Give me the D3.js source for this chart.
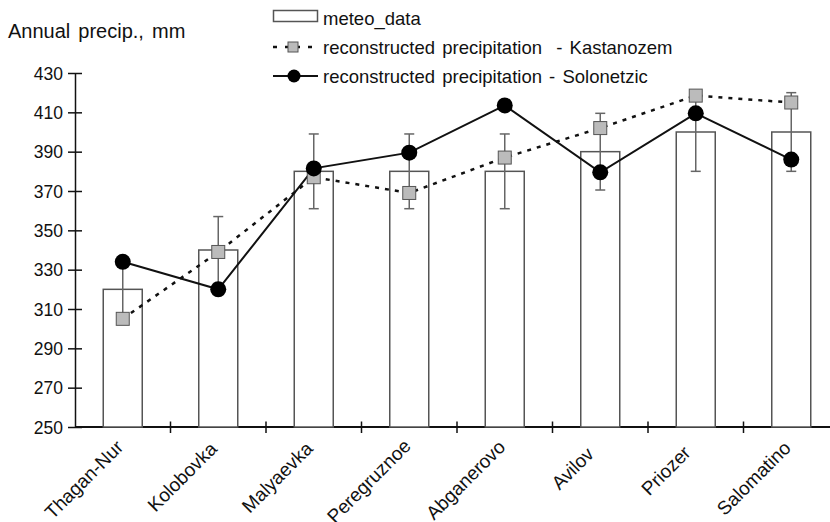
<!DOCTYPE html>
<html>
<head>
<meta charset="utf-8">
<script src="https://cdn.jsdelivr.net/npm/d3@7"></script>
<style>
  body { margin: 0; background: #fff; }
  svg text { font-family: "Liberation Sans", Arial, sans-serif; fill: #111; }
</style>
</head>
<body>
<div id="chart"></div>
<script>
// data
const stations = ["Thagan-Nur", "Kolobovka", "Malyaevka", "Peregruznoe", "Abganerovo", "Avilov", "Priozer", "Salomatino"];
const meteo = [320, 340, 380, 380, 380, 390, 400, 400];
const meteoErr = [15, 17, 19, 19, 19, 19.5, 20, 20];
const kastanozem = [305, 339, 377, 369, 387, 402, 418.5, 415];
const solonetzic = [334, 320, 381.5, 389.5, 413.5, 379.5, 409.5, 386];
const yTicks = [250, 270, 290, 310, 330, 350, 370, 390, 410, 430];

const W = 830, H = 522;
const svg = d3.select("#chart").append("svg").attr("width", W).attr("height", H);

// scales
const x = d3.scaleBand().domain(stations).range([75, 839]).paddingInner(0).paddingOuter(0);
const y = d3.scaleLinear().domain([250, 430]).range([427, 73]);
const cx = d => x(d) + x.bandwidth() / 2;
const barW = 39;

// y axis, ticks crossing the line
const yAxis = svg.append("g")
    .attr("transform", "translate(75,0)")
    .call(d3.axisLeft(y).tickValues(yTicks).tickSize(7).tickSizeOuter(0));
yAxis.select(".domain").attr("stroke", "#111").attr("stroke-width", 1.5);
yAxis.selectAll(".tick line").attr("x1", 7).attr("x2", -7).attr("stroke", "#111").attr("stroke-width", 1.5);
yAxis.selectAll(".tick text").attr("x", -12).attr("dy", "0.36em")
    .style("font-size", "17.5px").style("font-family", "Liberation Sans, Arial, sans-serif").attr("fill", "#111");

// x axis: line + ticks at category boundaries
svg.append("line").attr("x1", 75).attr("x2", 839).attr("y1", y(250)).attr("y2", y(250))
    .attr("stroke", "#111").attr("stroke-width", 1.8);
svg.selectAll(".xtick").data(stations.slice(1)).enter().append("line")
    .attr("class", "xtick")
    .attr("x1", d => x(d)).attr("x2", d => x(d))
    .attr("y1", y(250) - 5.5).attr("y2", y(250) + 6)
    .attr("stroke", "#111").attr("stroke-width", 1.5);

// rotated labels (pivot sits ~4/5 along each word, like the original)
svg.selectAll(".xlabel").data(stations).enter().append("text")
    .attr("class", "xlabel")
    .style("font-size", "19px")
    .text(d => d)
    .each(function(d) {
        const L = this.getComputedTextLength();
        d3.select(this)
          .attr("x", -0.81 * L)
          .attr("transform", `translate(${cx(d) - 12},${y(250) + 35}) rotate(-45)`);
    });

// bars
svg.selectAll(".bar").data(stations).enter().append("rect")
    .attr("class", "bar")
    .attr("x", d => cx(d) - barW / 2)
    .attr("width", barW)
    .attr("y", (d, i) => y(meteo[i]))
    .attr("height", (d, i) => y(250) - y(meteo[i]))
    .attr("fill", "#fff").attr("stroke", "#555").attr("stroke-width", 1.5);

// error bars
const eb = svg.selectAll(".err").data(stations).enter().append("g").attr("class", "err")
    .attr("stroke", "#666").attr("stroke-width", 1.5);
eb.append("line")
    .attr("x1", d => cx(d)).attr("x2", d => cx(d))
    .attr("y1", (d, i) => y(meteo[i] - meteoErr[i])).attr("y2", (d, i) => y(meteo[i] + meteoErr[i]));
eb.append("line")
    .attr("x1", d => cx(d) - 5).attr("x2", d => cx(d) + 5)
    .attr("y1", (d, i) => y(meteo[i] + meteoErr[i])).attr("y2", (d, i) => y(meteo[i] + meteoErr[i]));
eb.append("line")
    .attr("x1", d => cx(d) - 5).attr("x2", d => cx(d) + 5)
    .attr("y1", (d, i) => y(meteo[i] - meteoErr[i])).attr("y2", (d, i) => y(meteo[i] - meteoErr[i]));

// lines
const lineGen = d3.line().x((d, i) => cx(stations[i])).y(d => y(d));
svg.append("path").datum(kastanozem).attr("d", lineGen)
    .attr("fill", "none").attr("stroke", "#111").attr("stroke-width", 2.5).attr("stroke-dasharray", "4,6");
svg.append("path").datum(solonetzic).attr("d", lineGen)
    .attr("fill", "none").attr("stroke", "#111").attr("stroke-width", 2);

// markers
svg.selectAll(".sq").data(kastanozem).enter().append("rect")
    .attr("class", "sq")
    .attr("x", (d, i) => cx(stations[i]) - 6.5).attr("y", d => y(d) - 6.5)
    .attr("width", 13).attr("height", 13)
    .attr("fill", "#bbb").attr("stroke", "#555").attr("stroke-width", 1);
svg.selectAll(".dot").data(solonetzic).enter().append("circle")
    .attr("class", "dot")
    .attr("cx", (d, i) => cx(stations[i])).attr("cy", d => y(d))
    .attr("r", 8).attr("fill", "#000");

// y title
svg.append("text").attr("x", 8).attr("y", 38).style("font-size", "20px")
    .style("word-spacing", "2.5px").text("Annual precip., mm");

// legend
const lg = svg.append("g");
lg.append("rect").attr("x", 273.5).attr("y", 10.5).attr("width", 44).attr("height", 11)
    .attr("fill", "#fff").attr("stroke", "#555").attr("stroke-width", 1.5);
lg.append("text").attr("x", 323).attr("y", 24.5).style("font-size", "18.5px").text("meteo_data");

lg.append("line").attr("x1", 273).attr("x2", 312).attr("y1", 47).attr("y2", 47)
    .attr("stroke", "#111").attr("stroke-width", 2.5).attr("stroke-dasharray", "4,8,15,8,4");
lg.append("rect").attr("x", 288).attr("y", 42).attr("width", 10).attr("height", 10)
    .attr("fill", "#bbb").attr("stroke", "#555").attr("stroke-width", 1);
lg.append("text").attr("x", 323).attr("y", 54).style("font-size", "18.5px")
    .style("white-space", "pre").style("word-spacing", "2px")
    .text("reconstructed precipitation  - Kastanozem");

lg.append("line").attr("x1", 273).attr("x2", 318).attr("y1", 76).attr("y2", 76)
    .attr("stroke", "#111").attr("stroke-width", 2);
lg.append("circle").attr("cx", 294).attr("cy", 76).attr("r", 6.5).attr("fill", "#000");
lg.append("text").attr("x", 323).attr("y", 82.5).style("font-size", "18.5px")
    .style("word-spacing", "2px")
    .text("reconstructed precipitation - Solonetzic");
</script>
</body>
</html>
